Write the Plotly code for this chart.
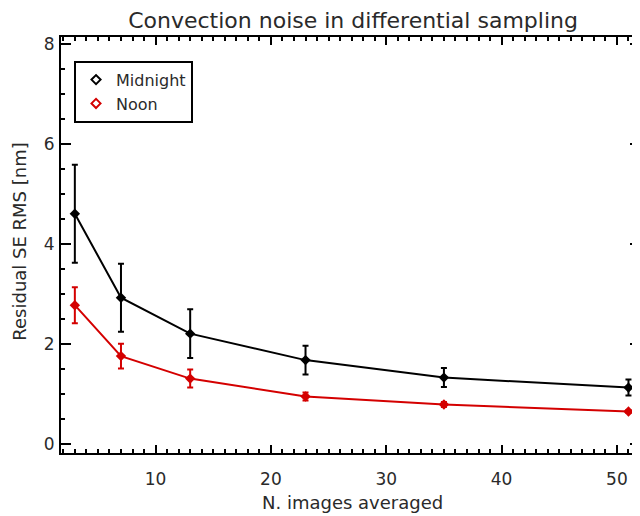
import plotly.graph_objects as go

n_images = [3, 7, 13, 23, 35, 51]
midnight = [4.61, 2.93, 2.21, 1.68, 1.33, 1.13]
midnight_err = [0.98, 0.68, 0.49, 0.29, 0.19, 0.16]
noon = [2.78, 1.76, 1.31, 0.95, 0.79, 0.65]
noon_err = [0.36, 0.25, 0.18, 0.08, 0.05, 0.03]

FONT = "DejaVu Sans"
TXT = "#2a2a2a"
RED = "#d40000"

fig = go.Figure()
fig.add_trace(go.Scatter(
    x=n_images, y=midnight, mode="lines+markers", showlegend=False, cliponaxis=False,
    line=dict(color="black", width=2),
    marker=dict(symbol="diamond", size=8, color="black"),
    error_y=dict(type="data", array=midnight_err, color="black", thickness=2, width=3),
))
fig.add_trace(go.Scatter(
    x=n_images, y=noon, mode="lines+markers", showlegend=False, cliponaxis=False,
    line=dict(color=RED, width=2),
    marker=dict(symbol="diamond", size=8, color=RED),
    error_y=dict(type="data", array=noon_err, color=RED, thickness=2, width=3),
))
fig.add_trace(go.Scatter(x=[None], y=[None], mode="markers", name="Midnight",
                         marker=dict(symbol="diamond-open", size=7, color="black", line=dict(width=2))))
fig.add_trace(go.Scatter(x=[None], y=[None], mode="markers", name="Noon",
                         marker=dict(symbol="diamond-open", size=7, color=RED, line=dict(width=2))))

axis_common = dict(
    showline=True, linecolor="black", linewidth=2, mirror="allticks",
    ticks="inside", tickcolor="black", tickwidth=2,
    showgrid=False, zeroline=False, automargin=False,
    tickfont=dict(family=FONT, size=17, color=TXT),
)
fig.update_xaxes(
    range=[1.8, 52.0], tickvals=[10, 20, 30, 40, 50], ticklen=8,
    ticklabelstandoff=10,
    minor=dict(dtick=1, tick0=0, ticks="inside", ticklen=4, tickcolor="black", tickwidth=1.5, showgrid=False),
    **axis_common,
)
fig.update_yaxes(
    range=[-0.18, 8.15], tickvals=[0, 2, 4, 6, 8], ticklen=10,
    ticklabelstandoff=1,
    minor=dict(dtick=0.5, tick0=0, ticks="inside", ticklen=4, tickcolor="black", tickwidth=1.5, showgrid=False),
    **axis_common,
)
fig.update_layout(
    width=632, height=508,
    margin=dict(l=53, r=0, t=29, b=63),
    paper_bgcolor="white", plot_bgcolor="white",
    title=dict(text="Convection noise in differential sampling", x=0.546, xanchor="center",
               y=0.976, yanchor="middle", font=dict(family=FONT, size=22, color=TXT)),
    legend=dict(x=0.0225, y=0.943, xanchor="left", yanchor="top",
                bordercolor="black", borderwidth=2, bgcolor="white",
                font=dict(family=FONT, size=16, color=TXT), itemwidth=30,
                tracegroupgap=0),
    annotations=[
        dict(text="N. images averaged", xref="paper", yref="paper", x=0.503, y=-0.12,
             xanchor="center", yanchor="middle", showarrow=False,
             font=dict(family=FONT, size=18, color=TXT)),
        dict(text="Residual SE RMS [nm]", xref="paper", yref="paper", x=-0.0708, y=0.508,
             xanchor="center", yanchor="middle", textangle=-90, showarrow=False,
             font=dict(family=FONT, size=18, color=TXT)),
    ],
)
fig.write_html("out.html")
